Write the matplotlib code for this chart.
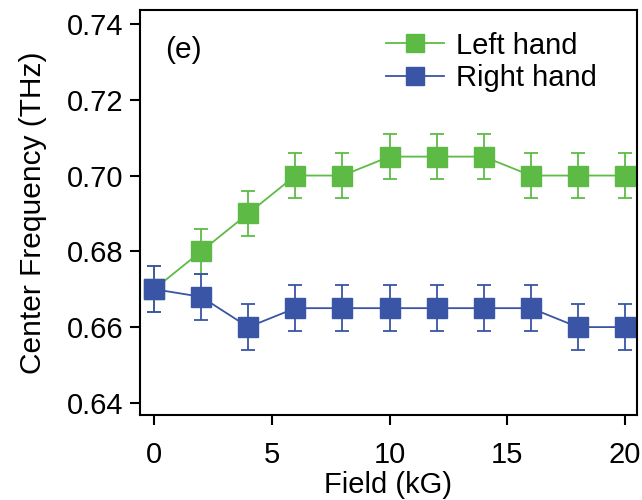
import numpy as np
import matplotlib
matplotlib.use('Agg')
import matplotlib.pyplot as plt

plt.rcParams['font.family'] = ['Liberation Sans', 'DejaVu Sans']

# data
field = [0, 2, 4, 6, 8, 10, 12, 14, 16, 18, 20]
left_hand = [0.670, 0.680, 0.690, 0.700, 0.700, 0.705, 0.705, 0.705, 0.700, 0.700, 0.700]
right_hand = [0.670, 0.668, 0.660, 0.665, 0.665, 0.665, 0.665, 0.665, 0.665, 0.660, 0.660]
left_err = [0.006] * len(field)
right_err = [0.006] * len(field)

green = '#5dbb45'
blue = '#3a54a6'

fig = plt.figure(figsize=(6.42, 5.0), dpi=100)
ax = fig.add_axes([0.218, 0.17, 0.774, 0.81])

ax.errorbar(field, left_hand, yerr=left_err, color=green, marker='s', markersize=14,
            linewidth=1.3, elinewidth=1.3, capsize=5, capthick=1.3, label='Left hand', clip_on=False)
ax.errorbar(field, right_hand, yerr=right_err, color=blue, marker='s', markersize=14,
            linewidth=1.3, elinewidth=1.3, capsize=5, capthick=1.3, label='Right hand', clip_on=False)

ax.set_xlim(-0.6, 20.5)
ax.set_ylim(0.6368, 0.7437)
ax.set_xticks([0, 5, 10, 15, 20])
ax.set_yticks([0.64, 0.66, 0.68, 0.70, 0.72, 0.74])
ax.set_yticklabels(['0.64', '0.66', '0.68', '0.70', '0.72', '0.74'])

for s in ax.spines.values():
    s.set_linewidth(1.5)
ax.tick_params(direction='out', length=7, width=1.5, labelsize=21, pad=5)
ax.tick_params(axis='x', pad=12)
ax.set_xlabel('Field (kG)', fontsize=21, labelpad=1)
ax.set_ylabel('Center Frequency (THz)', fontsize=21.5, labelpad=14)
ax.text(0.05, 0.935, '(e)', transform=ax.transAxes, fontsize=21.5, va='top')

handles, labels = ax.get_legend_handles_labels()
handles = [h[0] for h in handles]
ax.legend(handles, labels, loc='upper right', frameon=False, fontsize=21,
          handlelength=2.0, handletextpad=0.4, labelspacing=0.15,
          borderaxespad=0.2, bbox_to_anchor=(0.955, 0.99), markerscale=0.9)

fig.savefig('out.png', dpi=100)
